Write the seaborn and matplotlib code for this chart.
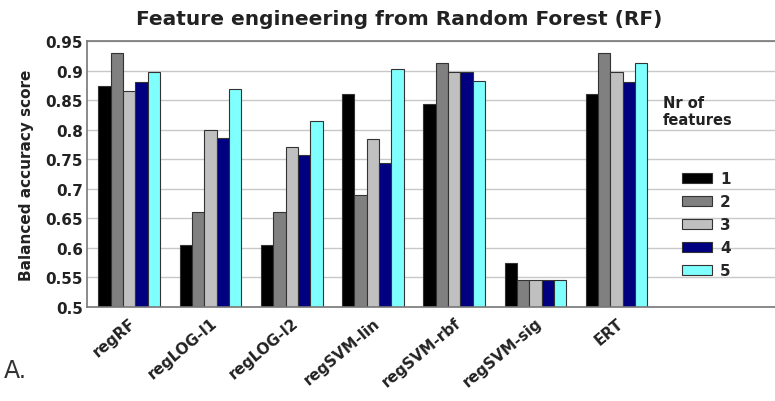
import pandas as pd
import seaborn as sns
import matplotlib.pyplot as plt

# Dados
modelos = ['regRF', 'regLOG-l1', 'regLOG-l2', 'regSVM-lin', 'regSVM-rbf', 'regSVM-sig', 'ERT']
n_features = ['1', '2', '3', '4', '5']
score_1 = [0.874, 0.605, 0.605, 0.860, 0.843, 0.574, 0.860]
score_2 = [0.931, 0.660, 0.660, 0.690, 0.914, 0.545, 0.931]
score_3 = [0.866, 0.799, 0.771, 0.784, 0.898, 0.545, 0.898]
score_4 = [0.881, 0.786, 0.757, 0.743, 0.898, 0.545, 0.881]
score_5 = [0.898, 0.870, 0.815, 0.903, 0.882, 0.545, 0.913]
y_ticks = [0.5, 0.55, 0.6, 0.65, 0.7, 0.75, 0.8, 0.85, 0.9, 0.95]

cores = ['#000000', '#808080', '#c0c0c0', '#000080', '#80ffff']

# Montar tabela longa para o seaborn
linhas = []
for nf, vals in zip(n_features, [score_1, score_2, score_3, score_4, score_5]):
    for m, v in zip(modelos, vals):
        linhas.append({'modelo': m, 'nf': nf, 'score': v})
df = pd.DataFrame(linhas)

sns.set_style('white')
plt.rcParams['font.family'] = ['DejaVu Sans']

fig = plt.figure(figsize=(7.75, 4.02), dpi=100)
ax = fig.add_axes([0.1123, 0.2346, 0.8877, 0.66])

sns.barplot(data=df, x='modelo', y='score', hue='nf', palette=cores, saturation=1,
            width=0.76, edgecolor='#333333', linewidth=0.8, ax=ax, zorder=2)

ax.set_ylim(0.5, 0.95)
ax.set_xlim(-0.52, 7.95)
ax.set_yticks(y_ticks)
ax.set_yticklabels(['%g' % t for t in y_ticks], fontsize=11, fontweight='bold', color='#222222')
ax.set_xticks(range(len(modelos)))
ax.set_xticklabels(modelos, rotation=40, ha='right', rotation_mode='anchor',
                   fontsize=11, fontweight='bold', color='#222222')
ax.tick_params(axis='both', length=0, pad=3)
ax.tick_params(axis='x', pad=6)
ax.yaxis.grid(True, color='#c8c8c8', linewidth=1, zorder=0)
ax.set_axisbelow(True)
ax.set_xlabel('')
ax.set_ylabel('Balanced accuracy score', fontsize=11, fontweight='bold', color='#222222',
              labelpad=8)

for lado in ['left', 'bottom', 'top']:
    ax.spines[lado].set_color('#777777')
    ax.spines[lado].set_linewidth(1.2)
ax.spines['right'].set_visible(False)

fig.text(0.515, 0.952, 'Feature engineering from Random Forest (RF)', fontsize=14.5,
         fontweight='bold', color='#222222', ha='center', va='center')

# Legenda
leg = ax.legend(loc='upper left', bbox_to_anchor=(0.87, 0.59), bbox_transform=fig.transFigure,
                frameon=False, prop={'weight': 'bold', 'size': 11}, handlelength=2.0,
                handleheight=0.7, labelspacing=0.52, handletextpad=0.5, borderpad=0)
fig.text(0.855, 0.76, 'Nr of\nfeatures', fontsize=10.5, fontweight='bold', color='#222222',
         va='top', ha='left', linespacing=1.1)

fig.text(0.005, 0.06, 'A.', fontsize=17, color='#333333')

plt.savefig('out.png', dpi=100)
